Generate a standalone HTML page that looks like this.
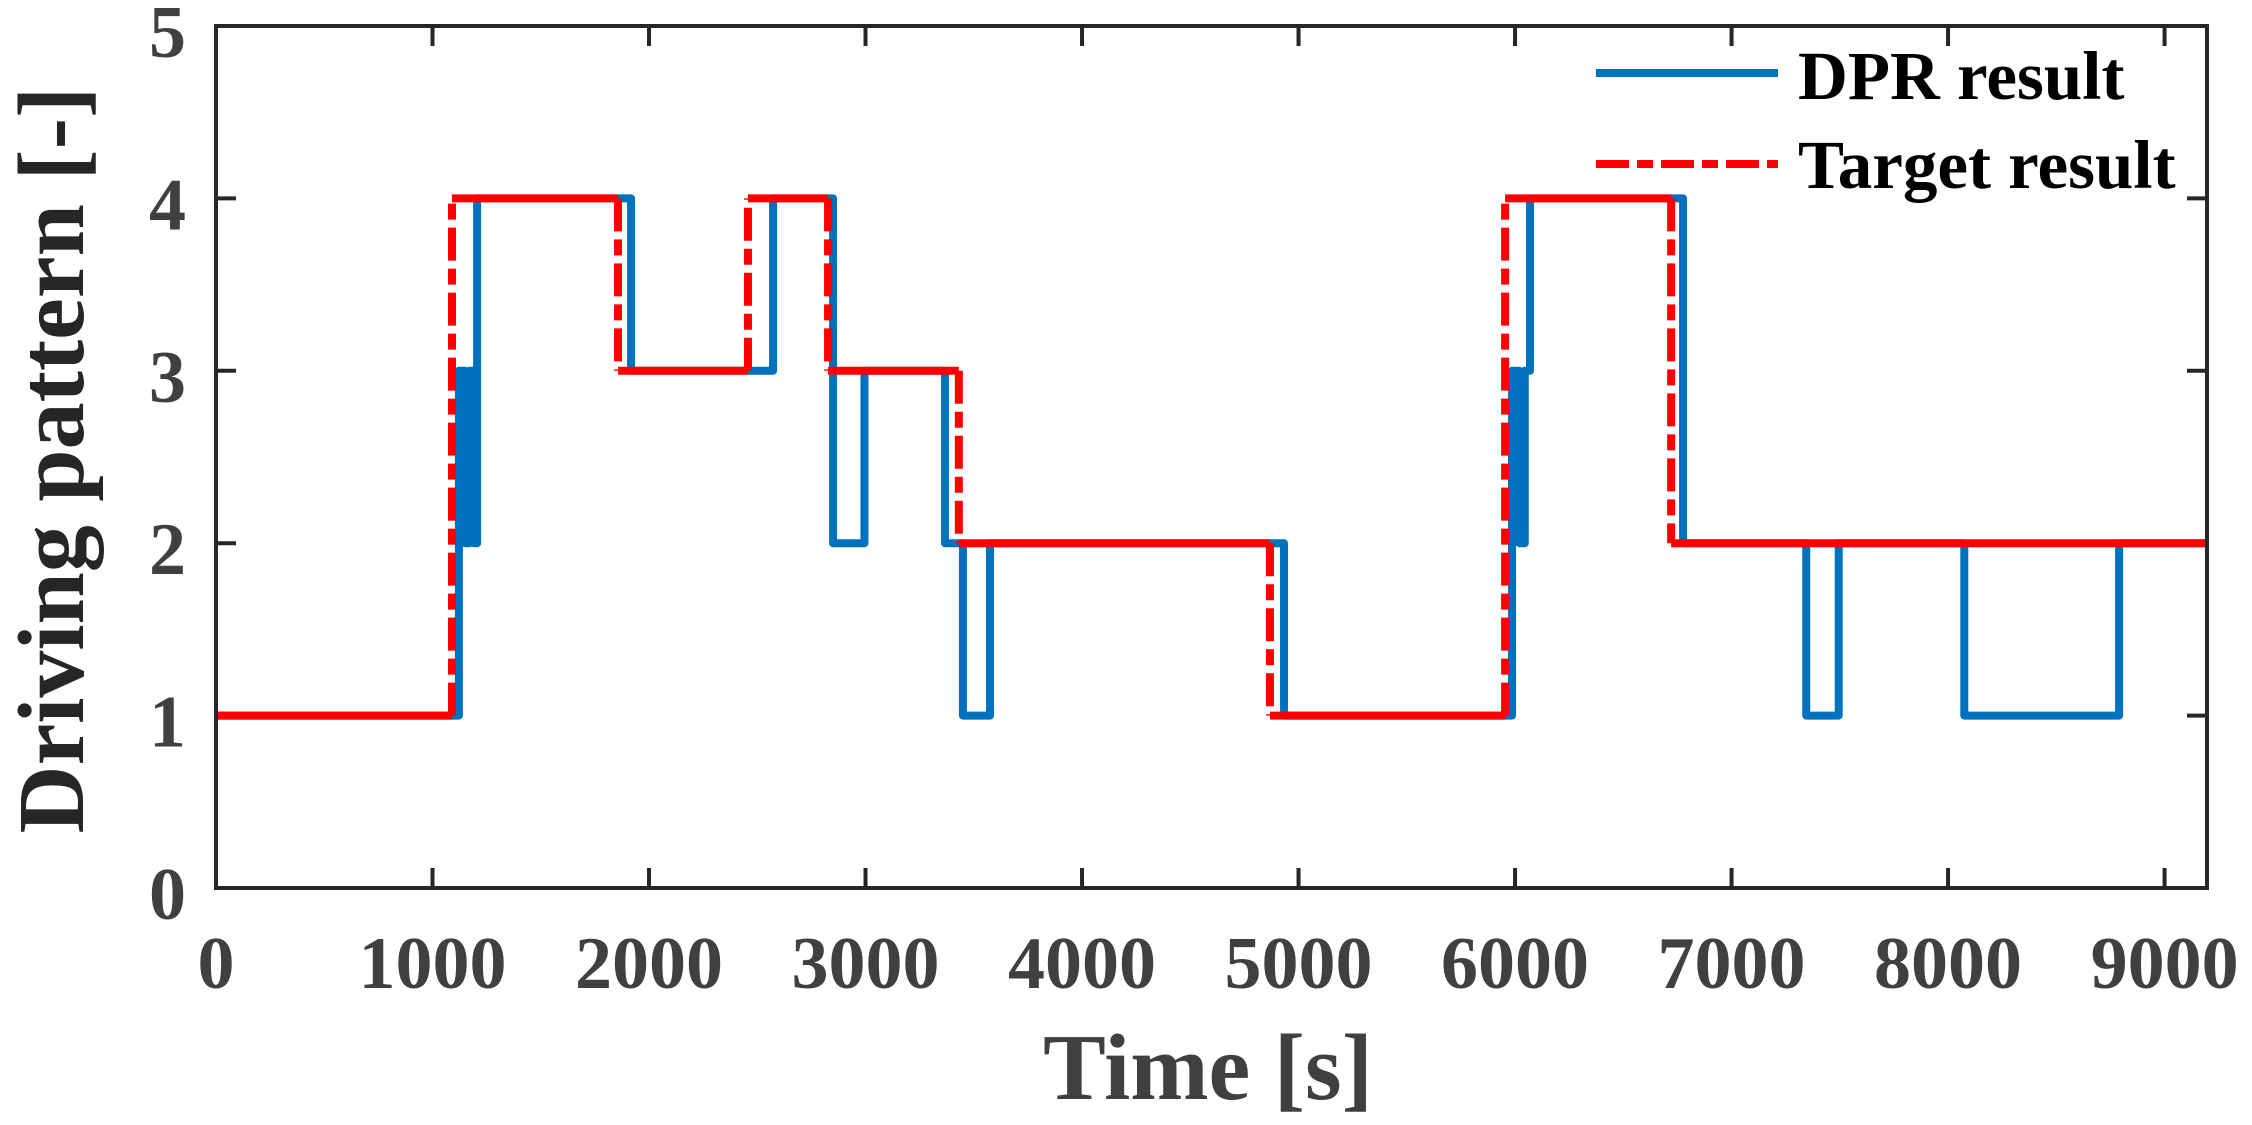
<!DOCTYPE html>
<html><head><meta charset="utf-8"><style>
html,body{margin:0;padding:0;background:#fff;}
svg{display:block;}
text{font-family:"Liberation Serif","Times New Roman",serif;font-weight:bold;}
</style></head><body>
<svg id="chart" width="2252" height="1125" viewBox="0 0 2252 1125" xmlns="http://www.w3.org/2000/svg" font-family="Liberation Serif, serif" font-weight="bold">
<rect width="2252" height="1125" fill="#fff"/>
<g id="ticks"></g>
<g id="series"></g>
<rect x="216" y="26" width="1991" height="862" fill="none" stroke="#262626" stroke-width="4"/>
<text x="1208" y="1099" font-size="94" fill="#404040" text-anchor="middle" font-family="Liberation Serif, serif" font-weight="bold">Time [s]</text>
<text transform="translate(83,460) rotate(-90)" font-size="94" fill="#262626" text-anchor="middle" font-family="Liberation Serif, serif" font-weight="bold">Driving pattern [-]</text>
<g>
<line x1="1596" y1="73" x2="1778" y2="73" stroke="#0072BD" stroke-width="8"/>
<text x="1798" y="99" font-size="69" fill="#000" font-family="Liberation Serif, serif" font-weight="bold">DPR result</text>
<line x1="1596" y1="164" x2="1778" y2="164" stroke="#FF0000" stroke-width="8" stroke-dasharray="33 8 16 8"/>
<text x="1798" y="188" font-size="69" fill="#000" font-family="Liberation Serif, serif" font-weight="bold">Target result</text>
</g>
</svg>
<script>
const xTicks = [0,1000,2000,3000,4000,5000,6000,7000,8000,9000];
const yTicks = [0,1,2,3,4,5];
const dprTimes = [0,1122,1150,1170,1190,1206,1917,2573,2850,2995,3367,3450,3575,4933,5986,6020,6045,6069,6776,7345,7495,8075,8790,9200];
const dprValues = [1,3,2,3,2,4,3,4,2,3,2,1,2,1,3,2,3,4,2,1,2,1,2,2];
const targetTimes = [0,1090,1857,2457,2827,3431,4868,5954,6721,9200];
const targetValues = [1,4,3,4,3,2,1,4,2,2];
const X0=216,X1=2207,XMAX=9196,Y0=888,Y1=26,YMAX=5;
function sx(t){return X0+(t/XMAX)*(X1-X0);}
function sy(v){return Y0-(v/YMAX)*(Y0-Y1);}
const NS="http://www.w3.org/2000/svg";
const tg=document.getElementById('ticks');
function mk(tag,attrs,parent){const e=document.createElementNS(NS,tag);for(const k in attrs)e.setAttribute(k,attrs[k]);parent.appendChild(e);return e;}
const FF='Liberation Serif, serif';
xTicks.forEach(t=>{
  const x=sx(t);
  const a=mk('line',{x1:x,y1:Y0,x2:x,y2:Y0-20,stroke:'#262626','stroke-width':4},tg);
  
  
  const b=mk('line',{x1:x,y1:Y1,x2:x,y2:Y1+20,stroke:'#262626','stroke-width':4},tg);
  
  
  const l=mk('text',{x:x,y:988,'font-size':74,fill:'#404040','text-anchor':'middle','font-family':FF,'font-weight':'bold'},tg);
  l.textContent=t;
  
  
});
yTicks.forEach(v=>{
  const y=sy(v);
  const a=mk('line',{x1:X0,y1:y,x2:X0+20,y2:y,stroke:'#262626','stroke-width':4},tg);
  
  
  const b=mk('line',{x1:X1,y1:y,x2:X1-20,y2:y,stroke:'#262626','stroke-width':4},tg);
  
  
  const l=mk('text',{x:186,y:y+31,'font-size':74,fill:'#404040','text-anchor':'end','font-family':FF,'font-weight':'bold'},tg);
  l.textContent=v;
  
  
});
function stepPath(ts,vs){
  let d='M'+sx(ts[0])+','+sy(vs[0]);
  for(let i=1;i<ts.length;i++){d+=' L'+sx(ts[i])+','+sy(vs[i-1])+' L'+sx(ts[i])+','+sy(vs[i]);}
  return d;
}
function horizPath(ts,vs){
  let d='';
  for(let i=1;i<ts.length;i++){d+=' M'+sx(ts[i-1])+','+sy(vs[i-1])+' L'+sx(ts[i])+','+sy(vs[i-1]);}
  return d;
}
function vertPath(ts,vs){
  let d='';
  for(let i=1;i<ts.length;i++){if(vs[i]!==vs[i-1])d+=' M'+sx(ts[i])+','+sy(vs[i-1])+' L'+sx(ts[i])+','+sy(vs[i]);}
  return d;
}
const sg=document.getElementById('series');
const p1=mk('path',{d:stepPath(dprTimes,dprValues),fill:'none',stroke:'#0072BD','stroke-width':8,'stroke-linejoin':'round'},sg);


const p2=mk('path',{d:horizPath(targetTimes,targetValues),fill:'none',stroke:'#FF0000','stroke-width':8},sg);


const p3=mk('path',{d:vertPath(targetTimes,targetValues),fill:'none',stroke:'#FF0000','stroke-width':8,'stroke-dasharray':'33 8 16 8'},sg);


</script>
</body></html>
